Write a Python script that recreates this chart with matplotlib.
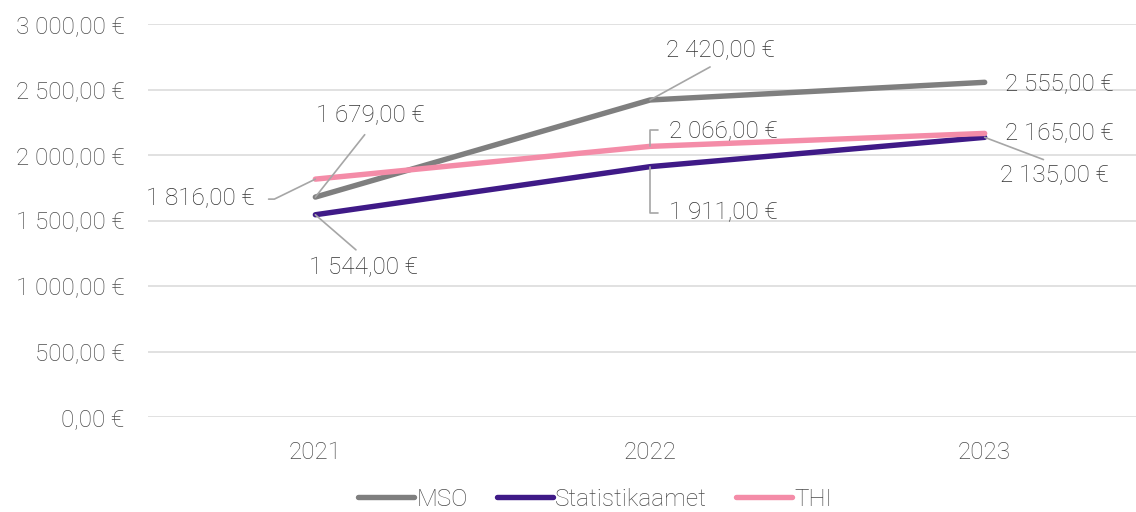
import matplotlib
matplotlib.use("Agg")
import matplotlib.pyplot as plt

years = ["2021", "2022", "2023"]
mso = [1679, 2420, 2555]
stat = [1544, 1911, 2135]
thi = [1816, 2066, 2165]

names = ["MSO", "Statistikaamet", "THI"]
colors = ["#7f7f7f", "#3f1a87", "#f48ca8"]

plt.rcParams["font.family"] = ["Roboto", "DejaVu Sans"]
plt.rcParams["font.weight"] = "light"

fs = 17.5
txt_c = "#4a4a4a"
lab_c = "#333333"
lead_c = "#a6a6a6"


def eur(v):
    return f"{v:,.2f}".replace(",", " ").replace(".", ",") + " €"


fig = plt.figure(figsize=(11.36, 5.12), dpi=100)
ax = fig.add_axes([0.1303, 0.1855, 0.8838, 0.7676])

x = list(range(len(years)))
for vals, nm, clr in zip([mso, stat, thi], names, colors):
    ax.plot(x, vals, color=clr, lw=3.9, solid_capstyle="round", label=nm)

ax.set_xlim(-0.5, 2.5)
ax.set_ylim(0, 3000)
ax.set_yticks(range(0, 3001, 500))
ax.set_yticklabels([eur(v) for v in range(0, 3001, 500)])
ax.set_xticks(x)
ax.set_xticklabels(years)
ax.yaxis.grid(True, color="#d9d9d9", lw=1.1)
ax.set_axisbelow(True)
for s in ax.spines.values():
    s.set_visible(False)
ax.tick_params(axis="both", length=0, labelsize=fs, colors=txt_c)
ax.tick_params(axis="y", pad=17)
ax.tick_params(axis="x", pad=17)

# data labels: (series, index, dx, dy in pixels, relpos, connection, shrink)
labels = [
    (thi, 0, -115, -20, (1, 0.5), "angle,angleA=0,angleB=26,rad=0", 8),
    (mso, 0, 55, 81, (0.5, 0), "arc3", 4),
    (stat, 0, 48, -53, (0.5, 1), "arc3", 4),
    (mso, 1, 70, 50, (0.5, 0), "arc3", 4),
    (thi, 1, 73, 16, (0, 0.5), "angle,angleA=0,angleB=90,rad=0", 6),
    (stat, 1, 73, -46, (0, 0.5), "angle,angleA=0,angleB=90,rad=0", 6),
    (mso, 2, 75, -1, None, None, 0),
    (thi, 2, 75, 0, None, None, 0),
    (stat, 2, 70, -38, (0.5, 1), "arc3", 3),
]
for ser, i, dx, dy, rp, cs, shr in labels:
    ap = None
    if rp is not None:
        ap = dict(arrowstyle="-", color=lead_c, lw=1.2, relpos=rp,
                  shrinkA=shr, shrinkB=0, connectionstyle=cs)
    ax.annotate(eur(ser[i]), xy=(i, ser[i]), xytext=(dx, dy),
                textcoords="offset pixels", ha="center", va="center",
                fontsize=fs, color=lab_c, arrowprops=ap,
                annotation_clip=False)

leg = fig.legend(loc="center", bbox_to_anchor=(0.524, 0.025), ncol=3,
                 frameon=False, fontsize=fs, handlelength=2.3,
                 handletextpad=0.1, columnspacing=1.2)
for t in leg.get_texts():
    t.set_color(txt_c)

fig.savefig("out.png", dpi=100)
